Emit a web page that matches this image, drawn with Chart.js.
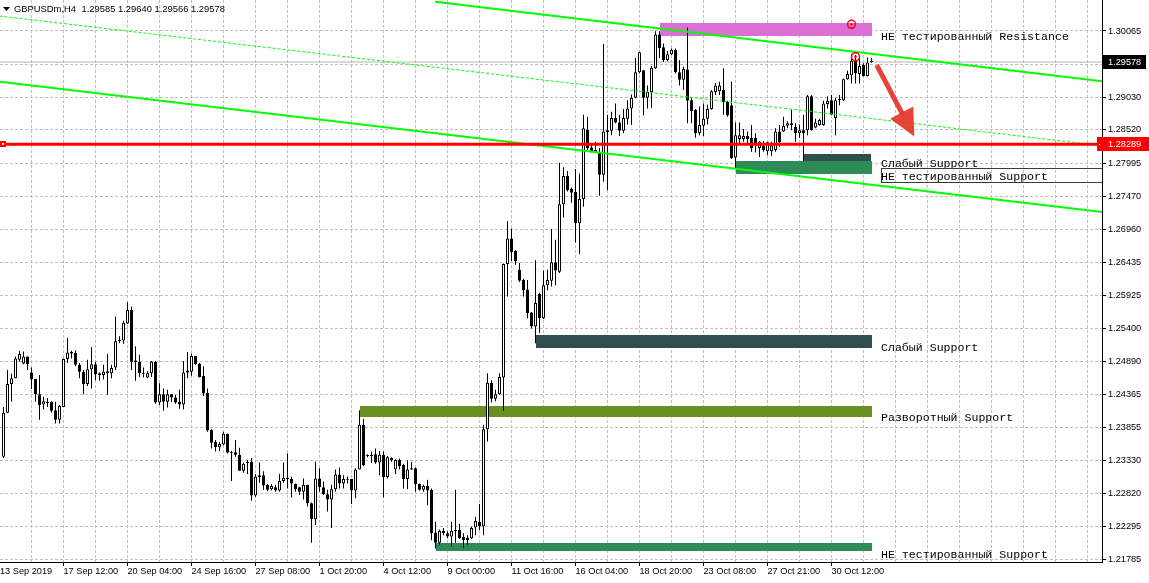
<!DOCTYPE html>
<html>
<head>
<meta charset="utf-8">
<script src="https://cdn.jsdelivr.net/npm/chart.js@4/dist/chart.umd.min.js"></script>
<style>
html,body{margin:0;padding:0;background:#fff;overflow:hidden}
canvas{display:block}
</style>
</head>
<body>
<canvas id="chart" width="1149" height="583"></canvas>
<script>
// GBPUSDm H4 candles (bar 0 = leftmost visible bar)
const opens = [
	1.2339,1.2408,1.2453,1.2462,1.2491,1.2485,1.2496,1.2471,1.2461,1.2437,
	1.2421,1.2425,1.2425,1.2412,1.2397,1.2417,1.2492,1.2501,1.2502,1.2483,
	1.2472,1.2453,1.2476,1.2484,1.2470,1.2467,1.2470,1.2470,1.2479,1.2520,
	1.2521,1.2548,1.2569,1.2490,1.2488,1.2470,1.2463,1.2470,1.2488,1.2424,
	1.2437,1.2425,1.2437,1.2432,1.2425,1.2421,1.2471,1.2472,1.2497,1.2485,
	1.2466,1.2439,1.2381,1.2362,1.2354,1.2358,1.2375,1.2346,1.2346,1.2342,
	1.2317,1.2329,1.2331,1.2278,1.2307,1.2310,1.2295,1.2288,1.2291,1.2286,
	1.2301,1.2305,1.2304,1.2296,1.2291,1.2284,1.2295,1.2266,1.2241,1.2305,
	1.2291,1.2280,1.2272,1.2288,1.2311,1.2297,1.2304,1.2304,1.2286,1.2319,
	1.2389,1.2342,1.2342,1.2343,1.2330,1.2342,1.2307,1.2337,1.2319,1.2334,
	1.2326,1.2304,1.2321,1.2321,1.2296,1.2287,1.2293,1.2287,1.2220,1.2204,
	1.2223,1.2219,1.2214,1.2224,1.2224,1.2213,1.2212,1.2211,1.2228,1.2237,
	1.2230,1.2382,1.2455,1.2430,1.2437,1.2463,1.2641,1.2681,1.2662,1.2632,
	1.2616,1.2601,1.2565,1.2543,1.2594,1.2556,1.2608,1.2615,1.2644,1.2629,
	1.2735,1.2779,1.2759,1.2754,1.2705,1.2743,1.2852,1.2824,1.2820,1.2817,
	1.2781,1.2848,1.2850,1.2870,1.2863,1.2850,1.2869,1.2885,1.2902,1.2942,
	1.2945,1.2902,1.2911,1.2948,1.3001,1.2981,1.2961,1.2970,1.2977,1.2942,
	1.2930,1.2946,1.2898,1.2883,1.2846,1.2858,1.2869,1.2884,1.2911,1.2912,
	1.2914,1.2895,1.2890,1.2808,1.2837,1.2837,1.2842,1.2839,1.2839,1.2823,
	1.2826,1.2818,1.2818,1.2820,1.2849,1.2849,1.2858,1.2859,1.2856,1.2846,
	1.2851,1.2851,1.2904,1.2855,1.2859,1.2859,1.2892,1.2898,1.2870,1.2898,
	1.2898,1.2931,1.2937,1.2960,1.2939,1.2953,1.2936,1.29585
];
const highs = [
	1.2417,1.2475,1.2469,1.2496,1.2505,1.2504,1.2496,1.2479,1.2461,1.2467,
	1.2433,1.2431,1.2426,1.2425,1.2420,1.2493,1.2525,1.2505,1.2506,1.2486,
	1.2475,1.2491,1.2511,1.2488,1.2471,1.2483,1.2500,1.2483,1.2559,1.2528,
	1.2552,1.2581,1.2574,1.2512,1.2499,1.2479,1.2473,1.2489,1.2489,1.2454,
	1.2446,1.2444,1.2437,1.2436,1.2444,1.2489,1.2503,1.2501,1.2497,1.2486,
	1.2481,1.2446,1.2382,1.2365,1.2362,1.2378,1.2375,1.2348,1.2365,1.2353,
	1.2330,1.2334,1.2337,1.2312,1.2330,1.2316,1.2296,1.2296,1.2295,1.2312,
	1.2330,1.2344,1.2308,1.2297,1.2292,1.2305,1.2295,1.2267,1.2331,1.2321,
	1.2300,1.2287,1.2295,1.2319,1.2322,1.2310,1.2308,1.2304,1.2321,1.2412,
	1.2398,1.2343,1.2347,1.2352,1.2348,1.2347,1.2340,1.2338,1.2335,1.2336,
	1.2328,1.2333,1.2331,1.2322,1.2297,1.2295,1.2303,1.2289,1.2237,1.2225,
	1.2227,1.2222,1.2237,1.2287,1.2234,1.2219,1.2216,1.2229,1.2245,1.2265,
	1.2389,1.2470,1.2459,1.2444,1.2470,1.2642,1.2708,1.2697,1.2663,1.2643,
	1.2618,1.2616,1.2566,1.2647,1.2596,1.2631,1.2632,1.2696,1.2679,1.2800,
	1.2793,1.2787,1.2761,1.2790,1.2783,1.2875,1.2872,1.2830,1.2833,1.2823,
	1.2986,1.2875,1.2880,1.2893,1.2875,1.2884,1.2898,1.2907,1.2964,1.2974,
	1.2945,1.2921,1.2952,1.3006,1.3006,1.2987,1.2975,1.2979,1.2979,1.2961,
	1.2951,1.3012,1.2902,1.2884,1.2888,1.2893,1.2891,1.2914,1.2925,1.2927,
	1.2948,1.2897,1.2927,1.2863,1.2863,1.2853,1.2849,1.2859,1.2846,1.2834,
	1.2834,1.2833,1.2833,1.2854,1.2859,1.2872,1.2865,1.2883,1.2862,1.2860,
	1.2875,1.2906,1.2906,1.2869,1.2869,1.2897,1.2904,1.2906,1.2902,1.2906,
	1.2932,1.2944,1.2970,1.2969,1.2965,1.2956,1.2965,1.29640
];
const lows = [
	1.2337,1.2407,1.2425,1.2462,1.2488,1.2484,1.2475,1.2445,1.2425,1.2397,
	1.2413,1.2417,1.2408,1.2391,1.2391,1.2417,1.2486,1.2493,1.2481,1.2462,
	1.2437,1.2450,1.2446,1.2459,1.2458,1.2460,1.2436,1.2462,1.2475,1.2517,
	1.2516,1.2547,1.2475,1.2458,1.2464,1.2463,1.2462,1.2464,1.2422,1.2420,
	1.2411,1.2416,1.2425,1.2422,1.2414,1.2413,1.2462,1.2466,1.2483,1.2463,
	1.2434,1.2378,1.2352,1.2347,1.2348,1.2357,1.2344,1.2301,1.2339,1.2317,
	1.2314,1.2312,1.2270,1.2276,1.2298,1.2287,1.2285,1.2286,1.2284,1.2284,
	1.2298,1.2289,1.2275,1.2284,1.2279,1.2272,1.2261,1.2204,1.2232,1.2284,
	1.2279,1.2253,1.2227,1.2284,1.2289,1.2289,1.2297,1.2265,1.2274,1.2319,
	1.2324,1.2338,1.2329,1.2328,1.2310,1.2275,1.2305,1.2331,1.2312,1.2319,
	1.2289,1.2288,1.2318,1.2284,1.2286,1.2284,1.2263,1.2208,1.2195,1.2201,
	1.2216,1.2211,1.2198,1.2204,1.2210,1.2196,1.2201,1.2210,1.2216,1.2224,
	1.2216,1.2363,1.2424,1.2426,1.2436,1.2411,1.2590,1.2646,1.2640,1.2613,
	1.2590,1.2556,1.2540,1.2517,1.2533,1.2555,1.2600,1.2606,1.2608,1.2627,
	1.2714,1.2755,1.2737,1.2675,1.2657,1.2731,1.2820,1.2816,1.2815,1.2748,
	1.2770,1.2757,1.2843,1.2862,1.2842,1.2846,1.2860,1.2859,1.2901,1.2940,
	1.2874,1.2885,1.2886,1.2947,1.2964,1.2958,1.2959,1.2969,1.2940,1.2921,
	1.2914,1.2862,1.2862,1.2839,1.2843,1.2842,1.2860,1.2883,1.2906,1.2906,
	1.2875,1.2872,1.2806,1.2790,1.2828,1.2833,1.2829,1.2817,1.2816,1.2809,
	1.2817,1.2812,1.2811,1.2817,1.2825,1.2848,1.2854,1.2851,1.2833,1.2839,
	1.2802,1.2843,1.2850,1.2854,1.2858,1.2858,1.2885,1.2875,1.2843,1.2890,
	1.2897,1.2930,1.2924,1.2924,1.2924,1.2935,1.2935,1.29566
];
const closes = [
	1.2408,1.2453,1.2462,1.2493,1.2500,1.2496,1.2484,1.2460,1.2437,1.2420,
	1.2426,1.2423,1.2411,1.2397,1.2419,1.2492,1.2502,1.2503,1.2483,1.2472,
	1.2453,1.2476,1.2484,1.2468,1.2467,1.2472,1.2473,1.2478,1.2520,1.2522,
	1.2549,1.2569,1.2488,1.2487,1.2470,1.2469,1.2470,1.2488,1.2424,1.2437,
	1.2425,1.2437,1.2432,1.2424,1.2421,1.2471,1.2474,1.2497,1.2484,1.2464,
	1.2438,1.2380,1.2361,1.2354,1.2359,1.2375,1.2345,1.2345,1.2342,1.2317,
	1.2328,1.2331,1.2278,1.2308,1.2310,1.2294,1.2287,1.2293,1.2286,1.2301,
	1.2306,1.2304,1.2297,1.2288,1.2284,1.2295,1.2266,1.2241,1.2305,1.2291,
	1.2280,1.2272,1.2288,1.2311,1.2297,1.2304,1.2303,1.2286,1.2319,1.2389,
	1.2326,1.2340,1.2340,1.2330,1.2342,1.2307,1.2338,1.2334,1.2334,1.2324,
	1.2304,1.2319,1.2319,1.2296,1.2287,1.2293,1.2286,1.2219,1.2204,1.2223,
	1.2219,1.2214,1.2223,1.2222,1.2211,1.2208,1.2208,1.2227,1.2238,1.2230,
	1.2382,1.2455,1.2430,1.2437,1.2464,1.2641,1.2681,1.2660,1.2646,1.2615,
	1.2600,1.2564,1.2543,1.2580,1.2556,1.2608,1.2616,1.2644,1.2631,1.2735,
	1.2779,1.2757,1.2753,1.2705,1.2743,1.2854,1.2823,1.2817,1.2817,1.2781,
	1.2849,1.2851,1.2870,1.2863,1.2850,1.2870,1.2885,1.2902,1.2942,1.2973,
	1.2902,1.2911,1.2949,1.3001,1.2980,1.2961,1.2970,1.2977,1.2942,1.2930,
	1.2947,1.2897,1.2881,1.2846,1.2859,1.2869,1.2884,1.2912,1.2921,1.2921,
	1.2895,1.2874,1.2807,1.2843,1.2843,1.2842,1.2837,1.2823,1.2830,1.2833,
	1.2820,1.2832,1.2827,1.2849,1.2832,1.2858,1.2862,1.2862,1.2846,1.2851,
	1.2846,1.2904,1.2851,1.2863,1.2867,1.2893,1.2897,1.2875,1.2898,1.2900,
	1.2931,1.2939,1.2960,1.2940,1.2952,1.2936,1.2957,1.29578
];

// time axis labels (bar index -> text)
const timeTickBars = [-0.875, 15, 31, 47, 63, 79, 95, 111, 127, 143, 159, 175, 191, 207];
const timeTickLabels = ['13 Sep 2019','17 Sep 12:00','20 Sep 04:00','24 Sep 16:00','27 Sep 08:00',
	'1 Oct 20:00','4 Oct 12:00','9 Oct 00:00','11 Oct 16:00','16 Oct 04:00','18 Oct 20:00',
	'23 Oct 08:00','27 Oct 21:00','30 Oct 12:00'];
const priceTicks = [1.30065,1.29545,1.29030,1.28520,1.27995,1.27470,1.26960,1.26435,1.25925,
	1.25400,1.24890,1.24365,1.23855,1.23330,1.22820,1.22295,1.21785];

// drawn objects
const levelPrice = 1.28289;
const upperTrend = [[107.9, 1.30523], [276, 1.29265]];
const lowerTrend = [[-1, 1.29271], [276, 1.27217]];
const dottedTrend = [[-1, 1.30300], [276, 1.28256]];
const zoneStart = [164, 200, 183, 133, 89, 108];
const zoneEnd = [217, 217, 217, 217, 217, 217];
const zoneHigh = [1.3019, 1.2814, 1.2802, 1.2530, 1.2419, 1.2204];
const zoneLow = [1.2998, 1.2803, 1.2781, 1.2510, 1.2402, 1.2192];
const zoneColors = ['#da70d6', '#2f4f4f', '#2e8b57', '#2f4f4f', '#6b8e23', '#2e8b57'];
const zoneLabels = ['НЕ тестированный Resistance', 'Слабый Support', 'НЕ тестированный Support',
	'Слабый Support', 'Разворотный Support', 'НЕ тестированный Support'];
const labelPrices = [1.29916, 1.27940, 1.27736, 1.25047, 1.23942, 1.21802];
const arrowFrom = [218.3, 1.2953];
const arrowTo = [227.7, 1.2841];
const markerBars = [212, 213];
const markerPrices = [1.3017, 1.2966];

const X_MIN = -0.875, X_MAX = X_MIN + 1102 / 4;
const Y_MAX = 1.30551, Y_MIN = 1.217388;
const last = closes.length - 1;
const AXIS_FONT = '9.2px "Liberation Sans", Arial, sans-serif';

Chart.defaults.font.family = '"Liberation Sans", Arial, sans-serif';

const xTicks = [X_MIN];
for (let b = 7; b < X_MAX; b += 8) xTicks.push(b);
const isLabelBar = v => v > 0 && timeTickBars.includes(v);

const idx = opens.map((_, i) => i);
const hline = p => [{x: X_MIN, y: p}, {x: X_MAX, y: p}];
const seg = arr => arr.map(([b, p]) => ({x: b, y: p}));

const overlay = {
	id: 'overlay',
	beforeDatasetsDraw(chart) {
		const {ctx, chartArea: a, scales: {x, y}} = chart;
		ctx.save();
		ctx.beginPath();
		ctx.rect(a.left, a.top, a.right - a.left, a.bottom - a.top);
		ctx.clip();
		zoneStart.forEach((s, k) => {
			const x1 = x.getPixelForValue(s), x2 = x.getPixelForValue(zoneEnd[k]);
			const y1 = y.getPixelForValue(zoneHigh[k]), y2 = y.getPixelForValue(zoneLow[k]);
			ctx.fillStyle = zoneColors[k];
			ctx.fillRect(Math.round(x1), Math.round(y1), Math.round(x2 - x1), Math.round(y2 - y1));
		});
		ctx.restore();
	},
	afterDatasetsDraw(chart) {
		const {ctx, chartArea: a, scales: {x, y}} = chart;
		ctx.save();
		ctx.beginPath();
		ctx.rect(a.left, a.top, a.right - a.left, a.bottom - a.top);
		ctx.clip();

		// zone captions
		ctx.font = '11.6px "Liberation Mono", "Courier New", monospace';
		ctx.fillStyle = '#000';
		ctx.textBaseline = 'alphabetic';
		ctx.textAlign = 'left';
		zoneLabels.forEach((t, k) => {
			const tx = Math.round(x.getPixelForValue(zoneEnd[k]) + 9.5);
			const ty = Math.round(y.getPixelForValue(labelPrices[k]));
			ctx.fillText(t, tx, ty);
			if (k === 2) {
				ctx.strokeStyle = '#3a3a3a';
				ctx.lineWidth = 1;
				ctx.strokeRect(tx + 0.5, ty - 11.5, a.right - tx + 2, 14);
			}
		});

		// red arrow
		const x0 = x.getPixelForValue(arrowFrom[0]), y0 = y.getPixelForValue(arrowFrom[1]);
		const x1 = x.getPixelForValue(arrowTo[0]), y1 = y.getPixelForValue(arrowTo[1]);
		const len = Math.hypot(x1 - x0, y1 - y0), ux = (x1 - x0) / len, uy = (y1 - y0) / len;
		const bx = x1 - ux * 27, by = y1 - uy * 27;
		ctx.strokeStyle = ctx.fillStyle = 'rgba(228,52,40,0.92)';
		ctx.lineWidth = 5;
		ctx.beginPath();
		ctx.moveTo(x0, y0);
		ctx.lineTo(bx + ux * 2, by + uy * 2);
		ctx.stroke();
		ctx.beginPath();
		ctx.moveTo(x1, y1);
		ctx.lineTo(bx - uy * 13, by + ux * 13);
		ctx.lineTo(bx + uy * 13, by - ux * 13);
		ctx.closePath();
		ctx.fill();

		// end marker of the level line
		const ly = Math.round(y.getPixelForValue(levelPrice));
		ctx.fillStyle = '#ff0000';
		ctx.fillRect(0, ly - 3, 6, 6);
		ctx.fillStyle = '#fff';
		ctx.fillRect(2, ly - 1, 2, 2);
		ctx.restore();
	},
	afterDraw(chart) {
		const {ctx, chartArea: a, scales: {y}} = chart;
		ctx.save();
		ctx.font = AXIS_FONT;
		ctx.textBaseline = 'middle';
		ctx.textAlign = 'left';

		// current price box
		const cy = Math.round(y.getPixelForValue(closes[last]));
		ctx.fillStyle = '#000';
		ctx.fillRect(a.right + 1, cy - 7, 43, 14);
		ctx.fillStyle = '#fff';
		ctx.fillText(closes[last].toFixed(5), a.right + 6, cy + 0.5);

		// level price box
		const ry = Math.round(y.getPixelForValue(levelPrice));
		ctx.fillStyle = '#ff0000';
		ctx.fillRect(a.right - 5, ry - 7, 52, 14);
		ctx.fillStyle = '#fff';
		ctx.fillRect(a.right - 3, ry, 1, 1);
		ctx.fillText(levelPrice.toFixed(5), a.right + 6, ry + 0.5);

		// title
		ctx.fillStyle = '#000';
		ctx.beginPath();
		ctx.moveTo(3, 7); ctx.lineTo(10, 7); ctx.lineTo(6.5, 11);
		ctx.closePath();
		ctx.fill();
		ctx.font = '9.4px "Liberation Sans", Arial, sans-serif';
		ctx.textBaseline = 'alphabetic';
		ctx.fillText('GBPUSDm,H4', 14, 12);
		ctx.fillText([opens[last], highs[last], lows[last], closes[last]].map(v => v.toFixed(5)).join(' '), 81.5, 12);
		ctx.restore();
	}
};

new Chart(document.getElementById('chart'), {
	type: 'bar',
	data: {
		datasets: [
			{ type: 'line', order: 0, showLine: false, data: markerBars.map((b, k) => ({x: b, y: markerPrices[k]})),
				pointRadius: 4, pointStyle: 'circle', pointBorderColor: '#ff0000', pointBackgroundColor: 'rgba(0,0,0,0)', pointBorderWidth: 1.5 },
			{ type: 'line', order: 0, showLine: false, data: markerBars.map((b, k) => ({x: b, y: markerPrices[k]})),
				pointRadius: 1.3, pointBorderWidth: 0, pointBackgroundColor: '#ff0000' },
			{ type: 'line', order: 1, data: hline(levelPrice), borderColor: '#ff0000', borderWidth: 3, pointRadius: 0, clip: 0 },
			{ type: 'line', order: 2, data: seg(upperTrend), borderColor: '#00ff00', borderWidth: 2, pointRadius: 0, clip: 0 },
			{ type: 'line', order: 2, data: seg(lowerTrend), borderColor: '#00ff00', borderWidth: 2, pointRadius: 0, clip: 0 },
			{ type: 'line', order: 2, data: seg(dottedTrend), borderColor: '#00ff00', borderWidth: 1, borderDash: [3, 2], pointRadius: 0, clip: 0 },
			{ type: 'bar', order: 3, data: idx.map(i => ({x: i, y: [opens[i], closes[i]]})),
				backgroundColor: idx.map(i => closes[i] >= opens[i] ? '#ffffff' : '#000000'),
				borderColor: '#000', borderWidth: 1, borderSkipped: false, barThickness: 3,
				grouped: false, minBarLength: 1, inflateAmount: 0 },
			{ type: 'bar', order: 4, data: idx.map(i => ({x: i, y: [lows[i], highs[i]]})),
				backgroundColor: '#000', borderWidth: 0, barThickness: 1, grouped: false, minBarLength: 1, inflateAmount: 0 },
			{ type: 'line', order: 5, data: hline(closes[last]), borderColor: '#b4b4b4', borderWidth: 1, pointRadius: 0, clip: 0 }
		]
	},
	options: {
		responsive: false,
		animation: false,
		devicePixelRatio: 1,
		events: [],
		layout: { padding: 0, autoPadding: false },
		plugins: { legend: { display: false }, tooltip: { enabled: false }, title: { display: false } },
		scales: {
			x: {
				type: 'linear', min: X_MIN, max: X_MAX, offset: false, bounds: 'data',
				afterBuildTicks: s => { s.ticks = xTicks.map(v => ({value: v})); },
				afterFit: s => { s.height = 21; s.paddingLeft = 0; s.paddingRight = 0; },
				grid: {
					offset: false,
					color: c => (c.tick && c.tick.value > 0) ? '#c0c0c0' : 'rgba(0,0,0,0)',
					tickColor: c => (c.tick && isLabelBar(c.tick.value)) ? '#000' : 'rgba(0,0,0,0)',
					lineWidth: 1, drawTicks: true, tickLength: 4
				},
				border: { display: true, color: '#000', width: 1, dash: [3, 2] },
				ticks: {
					autoSkip: false, maxRotation: 0, minRotation: 0, align: 'start', padding: 0,
					color: '#000', font: { size: 9.2 },
					callback: v => { const k = timeTickBars.indexOf(v); return k >= 0 ? timeTickLabels[k] : ''; }
				}
			},
			y: {
				type: 'linear', position: 'right', min: Y_MIN, max: Y_MAX, bounds: 'data',
				afterBuildTicks: s => { s.ticks = priceTicks.map(v => ({value: v})); },
				afterFit: s => { s.width = 47; s.paddingTop = 0; s.paddingBottom = 0; },
				grid: { color: '#c0c0c0', tickColor: '#000', lineWidth: 1, drawTicks: true, tickLength: 4 },
				border: { display: true, color: '#000', width: 1, dash: [3, 2] },
				ticks: { padding: 2, color: '#000', font: { size: 9.2 }, callback: v => v.toFixed(5) }
			}
		}
	},
	plugins: [overlay]
});
</script>
</body>
</html>
